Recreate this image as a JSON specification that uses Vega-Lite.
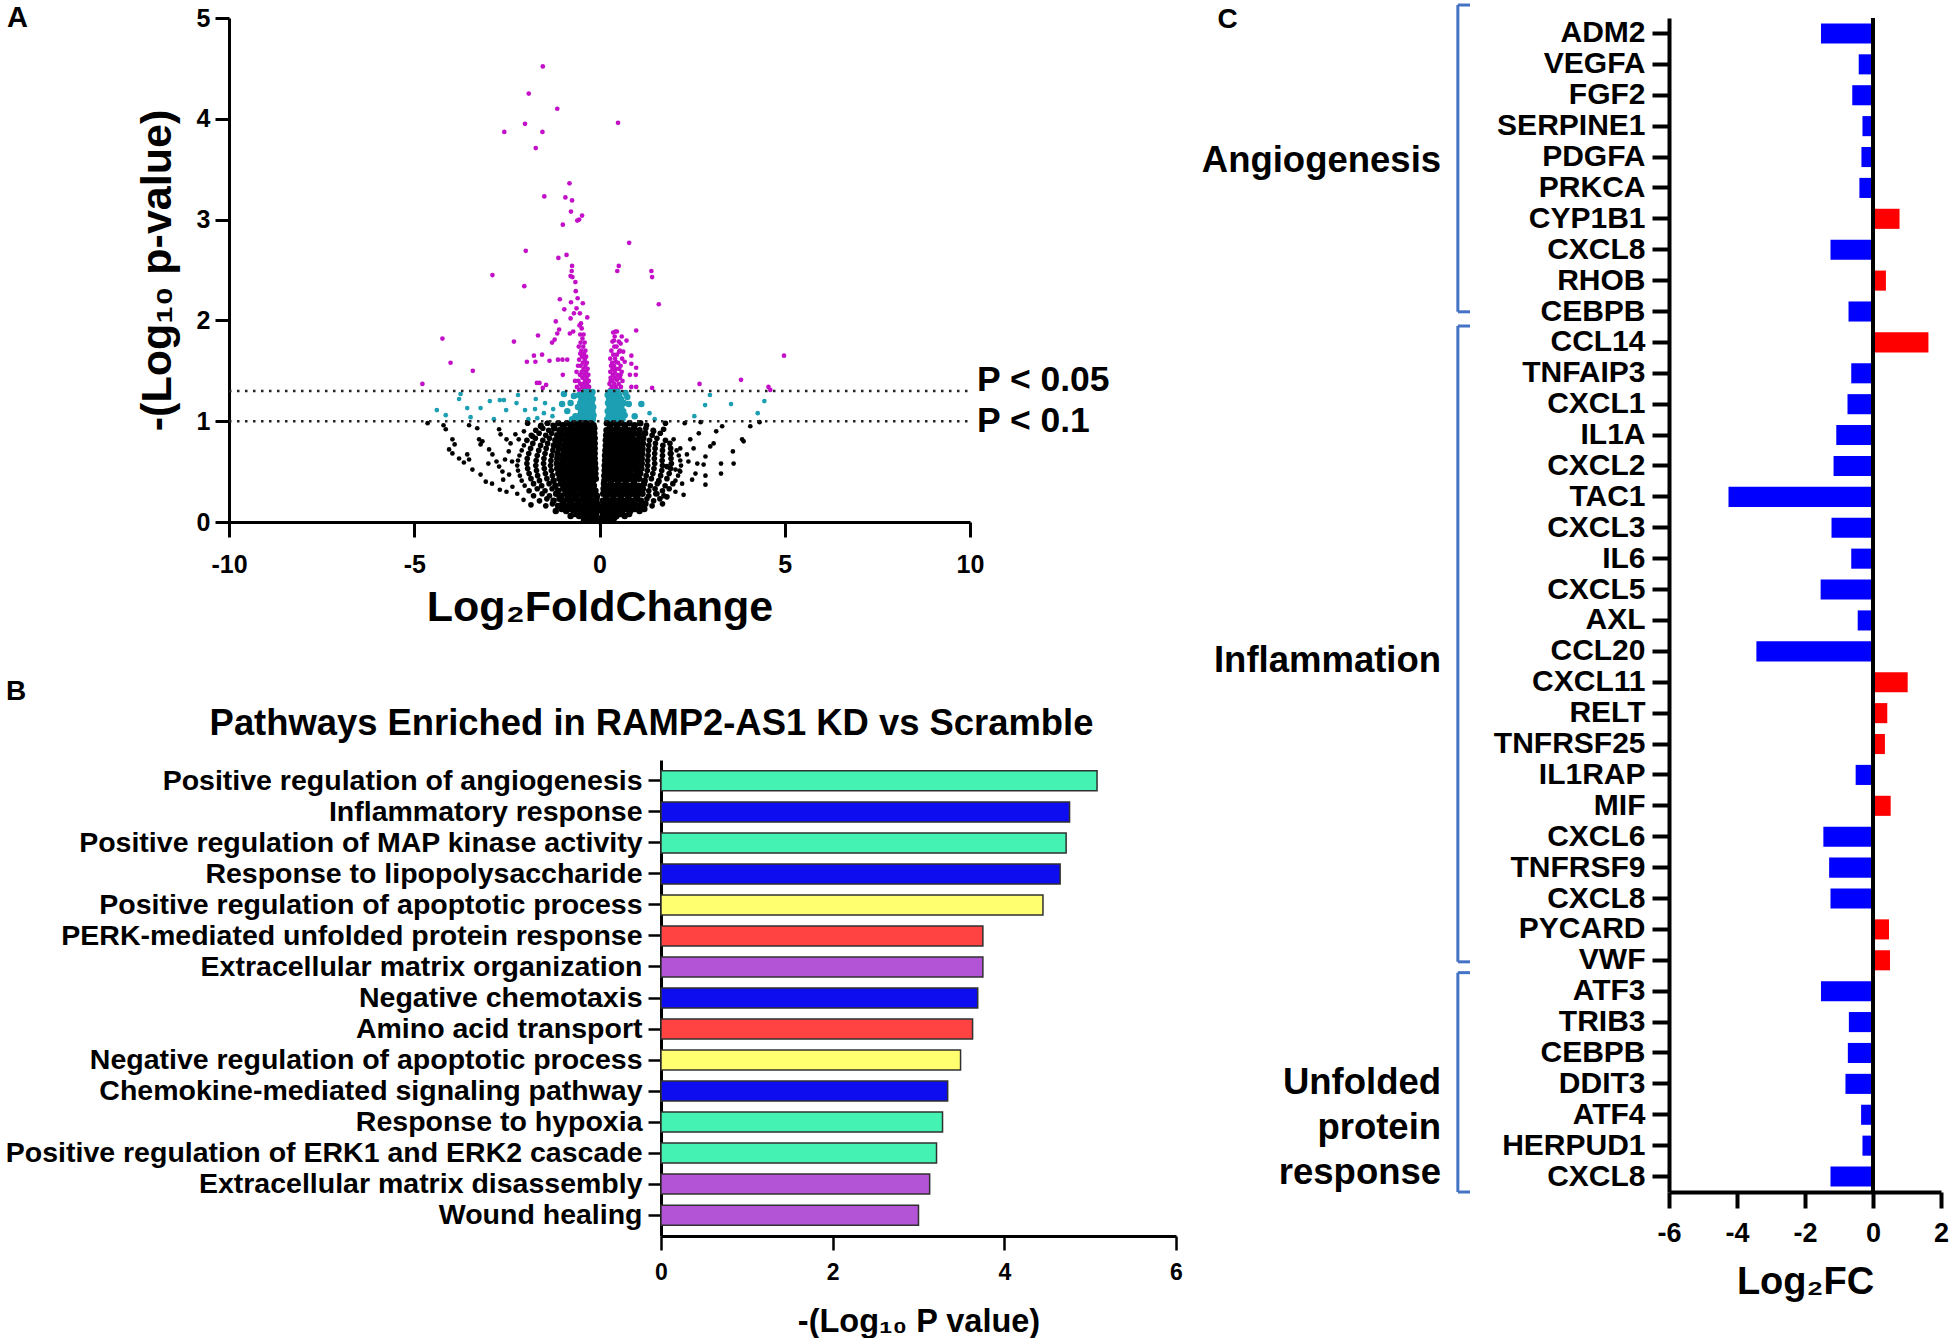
{
"$schema": "https://vega.github.io/schema/vega-lite/v6.json",
"padding": {"left": 0, "top": 3, "right": 0, "bottom": 0},
"background": "white",
"config": {
  "view": {"stroke": null},
  "font": "Liberation Sans",
  "axis": {"grid": false, "domainColor": "#000", "tickColor": "#000", "labelColor": "#000", "titleColor": "#000", "labelFont": "Liberation Sans", "titleFont": "Liberation Sans", "labelFontWeight": "bold", "titleFontWeight": "bold", "labelOverlap": false, "labelLimit": 900, "titleLimit": 1400},
  "title": {"font": "Liberation Sans", "fontWeight": "bold", "color": "#000"},
  "text": {"font": "Liberation Sans"}
},
"bounds": "flush",
"spacing": 1200,
"hconcat": [
  {
    "bounds": "flush",
    "spacing": 238,
    "vconcat": [
      {
        "width": 970,
        "height": 504,
        "title": {"text": "A", "anchor": "start", "frame": "group", "fontSize": 29, "offset": 0, "dx": 7, "dy": 50, "baseline": "alphabetic"},
        "data": {"values": [
{"x":-1.53,"y":4.52},{"x":-1.91,"y":4.25},{"x":-1.14,"y":4.1},{"x":-2.01,"y":3.95},{"x":-2.57,"y":3.87},{"x":-1.54,"y":3.87},{"x":-1.72,"y":3.71},{"x":0.5,"y":3.96},{"x":-0.81,"y":3.36},{"x":-1.49,"y":3.23},{"x":-0.92,"y":3.22},{"x":-0.74,"y":3.19},{"x":-0.77,"y":3.08},{"x":-0.47,"y":3.04},{"x":-0.6,"y":2.99},{"x":-0.55,"y":3.0},{"x":-0.99,"y":2.95},{"x":0.8,"y":2.77},{"x":-1.99,"y":2.69},{"x":-1.11,"y":2.62},{"x":-0.89,"y":2.65},{"x":-0.74,"y":2.54},{"x":0.52,"y":2.54},{"x":0.48,"y":2.49},{"x":-0.75,"y":2.49},{"x":1.4,"y":2.49},{"x":1.42,"y":2.43},{"x":-2.89,"y":2.45},{"x":-2.03,"y":2.34},{"x":-0.78,"y":2.44},{"x":-0.73,"y":2.43},{"x":-0.65,"y":2.38},{"x":1.6,"y":2.16},{"x":-0.64,"y":2.29},{"x":-1.07,"y":2.21},{"x":-0.77,"y":2.18},{"x":-0.59,"y":2.22},{"x":-0.45,"y":2.17},{"x":-0.95,"y":2.11},{"x":-0.62,"y":2.12},{"x":-0.69,"y":2.07},{"x":-0.53,"y":2.07},{"x":-0.78,"y":2.02},{"x":-0.33,"y":2.03},{"x":-1.18,"y":1.99},{"x":-0.54,"y":1.95},{"x":-1.09,"y":1.91},{"x":-1.14,"y":1.87},{"x":-0.8,"y":1.87},{"x":-0.71,"y":1.89},{"x":0.43,"y":1.89},{"x":0.99,"y":1.9},{"x":-4.24,"y":1.82},{"x":-2.31,"y":1.79},{"x":-1.66,"y":1.85},{"x":-1.28,"y":1.78},{"x":-1.21,"y":1.81},{"x":-4.02,"y":1.58},{"x":-3.42,"y":1.5},{"x":-1.96,"y":1.59},{"x":-1.77,"y":1.65},{"x":-1.73,"y":1.59},{"x":-1.55,"y":1.66},{"x":-1.35,"y":1.6},{"x":-1.62,"y":1.38},{"x":-1.44,"y":1.36},{"x":-1.69,"y":1.38},{"x":-1.53,"y":1.33},{"x":-1.12,"y":1.61},{"x":-1.0,"y":1.61},{"x":-0.87,"y":1.61},{"x":-0.99,"y":1.46},{"x":-4.78,"y":1.37},{"x":2.7,"y":1.37},{"x":3.82,"y":1.41},{"x":4.98,"y":1.65},{"x":4.61,"y":1.31},{"x":1.42,"y":1.33},{"x":0.99,"y":1.34},{"x":0.86,"y":1.65},{"x":0.86,"y":1.57},{"x":0.82,"y":1.46},{"x":0.99,"y":1.53},{"x":0.98,"y":1.46},{"x":0.73,"y":1.8},{"x":0.6,"y":1.84},{"x":0.47,"y":1.89},{"x":0.57,"y":1.77},{"x":0.39,"y":1.8},{"x":0.53,"y":1.69},{"x":0.44,"y":1.59},{"x":0.64,"y":1.69},{"x":0.68,"y":1.59},{"x":0.35,"y":1.52},{"x":0.57,"y":1.46},{"x":0.3,"y":1.4},{"x":0.47,"y":1.41},{"x":0.86,"y":1.34},{"x":4.56,"y":1.34},
{"x":-0.31,"y":1.31},{"x":-0.42,"y":1.31},{"x":-0.55,"y":1.31},{"x":-0.28,"y":1.34},{"x":-0.37,"y":1.34},{"x":-0.48,"y":1.34},{"x":-0.61,"y":1.34},{"x":-0.33,"y":1.37},{"x":-0.44,"y":1.37},{"x":-0.52,"y":1.37},{"x":-0.29,"y":1.4},{"x":-0.39,"y":1.4},{"x":-0.57,"y":1.4},{"x":-0.66,"y":1.4},{"x":-0.35,"y":1.43},{"x":-0.46,"y":1.43},{"x":-0.3,"y":1.46},{"x":-0.41,"y":1.46},{"x":-0.53,"y":1.46},{"x":-0.36,"y":1.49},{"x":-0.48,"y":1.49},{"x":-0.62,"y":1.49},{"x":-0.32,"y":1.52},{"x":-0.43,"y":1.52},{"x":-0.38,"y":1.55},{"x":-0.51,"y":1.55},{"x":-0.58,"y":1.55},{"x":-0.34,"y":1.58},{"x":-0.45,"y":1.58},{"x":-0.4,"y":1.61},{"x":-0.55,"y":1.61},{"x":-0.36,"y":1.64},{"x":-0.47,"y":1.64},{"x":-0.42,"y":1.67},{"x":-0.52,"y":1.67},{"x":-0.38,"y":1.7},{"x":-0.49,"y":1.7},{"x":-0.44,"y":1.74},{"x":-0.56,"y":1.74},{"x":-0.4,"y":1.78},{"x":-0.51,"y":1.78},{"x":-0.46,"y":1.82},{"x":-0.43,"y":1.86},{"x":-0.52,"y":1.86},{"x":-0.48,"y":1.92},{"x":-0.5,"y":1.97},
{"x":0.29,"y":1.31},{"x":0.38,"y":1.31},{"x":0.5,"y":1.31},{"x":0.33,"y":1.34},{"x":0.44,"y":1.34},{"x":0.58,"y":1.34},{"x":0.27,"y":1.37},{"x":0.4,"y":1.37},{"x":0.52,"y":1.37},{"x":0.35,"y":1.4},{"x":0.62,"y":1.4},{"x":0.3,"y":1.43},{"x":0.42,"y":1.43},{"x":0.55,"y":1.43},{"x":0.36,"y":1.46},{"x":0.48,"y":1.46},{"x":0.29,"y":1.49},{"x":0.41,"y":1.49},{"x":0.6,"y":1.49},{"x":0.45,"y":1.52},{"x":0.53,"y":1.52},{"x":0.31,"y":1.55},{"x":0.39,"y":1.55},{"x":0.57,"y":1.55},{"x":0.34,"y":1.58},{"x":0.5,"y":1.58},{"x":0.29,"y":1.62},{"x":0.42,"y":1.62},{"x":0.61,"y":1.62},{"x":0.37,"y":1.66},{"x":0.47,"y":1.66},{"x":0.32,"y":1.7},{"x":0.55,"y":1.7},{"x":0.4,"y":1.74},{"x":0.46,"y":1.74},{"x":0.35,"y":1.79},{"x":0.52,"y":1.79},{"x":0.41,"y":1.84},{"x":0.37,"y":1.88},
{"x":-3.75,"y":1.27},{"x":-3.79,"y":1.22},{"x":-4.39,"y":1.11},{"x":-3.57,"y":1.13},{"x":-3.48,"y":1.04},{"x":-3.21,"y":1.13},{"x":-2.96,"y":1.2},{"x":-2.69,"y":1.21},{"x":-2.58,"y":1.21},{"x":-2.52,"y":1.11},{"x":-2.85,"y":1.02},{"x":-2.24,"y":1.18},{"x":-2.01,"y":1.11},{"x":-1.92,"y":1.02},{"x":-1.72,"y":1.22},{"x":-1.74,"y":1.12},{"x":-1.47,"y":1.18},{"x":-1.5,"y":1.08},{"x":-1.68,"y":1.03},{"x":-1.25,"y":1.12},{"x":-1.27,"y":1.05},{"x":-1.01,"y":1.17},{"x":-0.96,"y":1.27},{"x":-0.87,"y":1.1},{"x":-0.78,"y":1.18},{"x":-0.69,"y":1.25},{"x":-0.65,"y":1.05},{"x":-0.74,"y":1.02},{"x":0.75,"y":1.24},{"x":0.79,"y":1.17},{"x":0.7,"y":1.28},{"x":1.13,"y":1.17},{"x":0.95,"y":1.05},{"x":1.35,"y":1.08},{"x":1.49,"y":1.02},{"x":2.56,"y":1.05},{"x":2.85,"y":1.16},{"x":2.98,"y":1.26},{"x":3.55,"y":1.17},{"x":4.27,"y":1.08},{"x":4.45,"y":1.2},{"x":-4.15,"y":1.06},{"x":-2.2,"y":1.26},
{"x":-0.18,"y":1.02},{"x":-0.28,"y":1.02},{"x":-0.38,"y":1.02},{"x":-0.48,"y":1.02},{"x":-0.57,"y":1.02},{"x":-0.16,"y":1.06},{"x":-0.24,"y":1.06},{"x":-0.34,"y":1.06},{"x":-0.44,"y":1.06},{"x":-0.53,"y":1.06},{"x":-0.19,"y":1.1},{"x":-0.29,"y":1.1},{"x":-0.39,"y":1.1},{"x":-0.5,"y":1.1},{"x":-0.17,"y":1.14},{"x":-0.26,"y":1.14},{"x":-0.36,"y":1.14},{"x":-0.46,"y":1.14},{"x":-0.58,"y":1.14},{"x":-0.21,"y":1.18},{"x":-0.31,"y":1.18},{"x":-0.41,"y":1.18},{"x":-0.52,"y":1.18},{"x":-0.18,"y":1.22},{"x":-0.28,"y":1.22},{"x":-0.38,"y":1.22},{"x":-0.49,"y":1.22},{"x":-0.22,"y":1.26},{"x":-0.33,"y":1.26},{"x":-0.44,"y":1.26},{"x":-0.55,"y":1.26},{"x":-0.19,"y":1.29},{"x":-0.3,"y":1.29},{"x":-0.4,"y":1.29},
{"x":0.21,"y":1.02},{"x":0.31,"y":1.02},{"x":0.41,"y":1.02},{"x":0.51,"y":1.02},{"x":0.62,"y":1.02},{"x":0.25,"y":1.06},{"x":0.35,"y":1.06},{"x":0.45,"y":1.06},{"x":0.56,"y":1.06},{"x":0.68,"y":1.06},{"x":0.22,"y":1.1},{"x":0.32,"y":1.1},{"x":0.42,"y":1.1},{"x":0.53,"y":1.1},{"x":0.64,"y":1.1},{"x":0.27,"y":1.14},{"x":0.37,"y":1.14},{"x":0.48,"y":1.14},{"x":0.59,"y":1.14},{"x":0.23,"y":1.18},{"x":0.33,"y":1.18},{"x":0.43,"y":1.18},{"x":0.55,"y":1.18},{"x":0.66,"y":1.18},{"x":0.26,"y":1.22},{"x":0.36,"y":1.22},{"x":0.47,"y":1.22},{"x":0.58,"y":1.22},{"x":0.22,"y":1.26},{"x":0.32,"y":1.26},{"x":0.42,"y":1.26},{"x":0.53,"y":1.26},{"x":0.28,"y":1.29},{"x":0.38,"y":1.29},{"x":0.49,"y":1.29},
{"x":-4.64,"y":0.98},{"x":-4.21,"y":0.96},{"x":-4.15,"y":0.92},{"x":-3.97,"y":0.82},{"x":-3.91,"y":0.77},{"x":-4.06,"y":0.72},{"x":-3.97,"y":0.68},{"x":-3.79,"y":0.63},{"x":-3.57,"y":0.67},{"x":-3.52,"y":0.62},{"x":-3.66,"y":0.59},{"x":-3.43,"y":0.52},{"x":-3.21,"y":0.47},{"x":-3.07,"y":0.4},{"x":-3.52,"y":0.96},{"x":-3.3,"y":0.93},{"x":-3.25,"y":0.82},{"x":-3.16,"y":0.8},{"x":-3.21,"y":0.77},{"x":-2.98,"y":0.72},{"x":-2.89,"y":0.67},{"x":-2.78,"y":0.6},{"x":-2.71,"y":0.55},{"x":-2.62,"y":0.5},{"x":-2.44,"y":0.47},{"x":-2.69,"y":0.32},{"x":-2.51,"y":0.3},{"x":-2.35,"y":0.35},{"x":-2.22,"y":0.28},{"x":-2.71,"y":0.92},{"x":-2.67,"y":0.87},{"x":-2.51,"y":0.82},{"x":-2.4,"y":0.78},{"x":-2.27,"y":0.87},{"x":-2.04,"y":0.9},{"x":-2.18,"y":0.82},{"x":-1.94,"y":0.98},{"x":-1.81,"y":0.85},{"x":-1.59,"y":0.95},{"x":-1.41,"y":0.98},{"x":-2.9,"y":0.38},{"x":-3.0,"y":0.58},{"x":-2.55,"y":0.62},{"x":-2.36,"y":0.6},{"x":-2.45,"y":0.7},{"x":-2.6,"y":0.42},{"x":-2.05,"y":0.22},{"x":-1.85,"y":0.17},
{"x":1.78,"y":0.98},{"x":2.3,"y":0.98},{"x":2.73,"y":0.99},{"x":3.31,"y":0.95},{"x":4.07,"y":0.95},{"x":4.32,"y":0.99},{"x":3.85,"y":0.82},{"x":3.89,"y":0.8},{"x":3.6,"y":0.7},{"x":3.62,"y":0.58},{"x":3.28,"y":0.58},{"x":3.28,"y":0.48},{"x":3.08,"y":0.78},{"x":2.99,"y":0.75},{"x":2.86,"y":0.65},{"x":2.81,"y":0.57},{"x":2.64,"y":0.58},{"x":2.59,"y":0.48},{"x":2.86,"y":0.46},{"x":2.86,"y":0.37},{"x":2.5,"y":0.42},{"x":2.23,"y":0.38},{"x":2.27,"y":0.27},{"x":2.05,"y":0.3},{"x":1.82,"y":0.25},{"x":2.45,"y":0.82},{"x":2.54,"y":0.73},{"x":2.36,"y":0.67},{"x":2.18,"y":0.73},{"x":2.0,"y":0.82},{"x":1.91,"y":0.68},{"x":1.82,"y":0.55},{"x":2.05,"y":0.52},{"x":2.18,"y":0.5},{"x":1.6,"y":0.4},{"x":1.55,"y":0.28},{"x":1.73,"y":0.92},{"x":1.46,"y":0.9},{"x":2.4,"y":0.6},{"x":2.68,"y":0.88},{"x":3.15,"y":0.9},{"x":1.7,"y":0.18},
{"x":-0.02,"y":0.01},{"x":0.02,"y":0.03},{"x":-0.42,"y":0.02},{"x":-0.33,"y":0.04},{"x":-0.24,"y":0.02},{"x":-0.15,"y":0.04},{"x":-0.07,"y":0.02},{"x":0.06,"y":0.04},{"x":0.14,"y":0.02},{"x":0.23,"y":0.04},{"x":0.31,"y":0.02},{"x":0.4,"y":0.04},
{"x":-0.78,"y":0.06},{"x":-0.66,"y":0.08},{"x":-0.55,"y":0.06},{"x":-0.45,"y":0.08},{"x":-0.36,"y":0.06},{"x":-0.27,"y":0.08},{"x":-0.18,"y":0.06},{"x":-0.09,"y":0.08},{"x":0.09,"y":0.06},{"x":0.18,"y":0.08},{"x":0.27,"y":0.06},{"x":0.37,"y":0.08},{"x":0.46,"y":0.06},{"x":0.57,"y":0.08},{"x":0.68,"y":0.06},{"x":0.8,"y":0.08},
{"x":-1.18,"y":0.11},{"x":-1.02,"y":0.13},{"x":-0.9,"y":0.11},{"x":-0.8,"y":0.13},{"x":-0.7,"y":0.11},{"x":-0.6,"y":0.13},{"x":-0.5,"y":0.11},{"x":-0.41,"y":0.13},{"x":-0.32,"y":0.11},{"x":-0.23,"y":0.13},{"x":-0.14,"y":0.11},{"x":-0.05,"y":0.13},{"x":0.06,"y":0.11},{"x":0.15,"y":0.13},{"x":0.24,"y":0.11},{"x":0.33,"y":0.13},{"x":0.43,"y":0.11},{"x":0.52,"y":0.13},{"x":0.62,"y":0.11},{"x":0.72,"y":0.13},{"x":0.83,"y":0.11},{"x":0.95,"y":0.13},{"x":1.08,"y":0.11},{"x":1.21,"y":0.13},
{"x":-1.45,"y":0.16},{"x":-1.27,"y":0.18},{"x":-1.12,"y":0.16},{"x":-1.0,"y":0.18},{"x":-0.9,"y":0.16},{"x":-0.8,"y":0.18},{"x":-0.7,"y":0.16},{"x":-0.6,"y":0.18},{"x":-0.5,"y":0.16},{"x":-0.41,"y":0.18},{"x":-0.32,"y":0.16},{"x":-0.23,"y":0.18},{"x":-0.14,"y":0.16},{"x":-0.06,"y":0.18},{"x":0.08,"y":0.16},{"x":0.17,"y":0.18},{"x":0.26,"y":0.16},{"x":0.35,"y":0.18},{"x":0.45,"y":0.16},{"x":0.55,"y":0.18},{"x":0.65,"y":0.16},{"x":0.75,"y":0.18},{"x":0.85,"y":0.16},{"x":0.96,"y":0.18},{"x":1.09,"y":0.16},{"x":1.24,"y":0.18},{"x":1.42,"y":0.16},
{"x":-1.62,"y":0.21},{"x":-1.42,"y":0.23},{"x":-1.24,"y":0.21},{"x":-1.08,"y":0.23},{"x":-0.96,"y":0.21},{"x":-0.86,"y":0.23},{"x":-0.76,"y":0.21},{"x":-0.66,"y":0.23},{"x":-0.56,"y":0.21},{"x":-0.46,"y":0.23},{"x":-0.36,"y":0.21},{"x":-0.27,"y":0.23},{"x":-0.18,"y":0.21},{"x":-0.08,"y":0.23},{"x":0.09,"y":0.21},{"x":0.18,"y":0.23},{"x":0.27,"y":0.21},{"x":0.37,"y":0.23},{"x":0.47,"y":0.21},{"x":0.57,"y":0.23},{"x":0.67,"y":0.21},{"x":0.77,"y":0.23},{"x":0.88,"y":0.21},{"x":0.99,"y":0.23},{"x":1.12,"y":0.21},{"x":1.28,"y":0.23},{"x":1.46,"y":0.21},{"x":1.63,"y":0.23},
{"x":-1.78,"y":0.26},{"x":-1.55,"y":0.28},{"x":-1.35,"y":0.26},{"x":-1.17,"y":0.28},{"x":-1.03,"y":0.26},{"x":-0.92,"y":0.28},{"x":-0.82,"y":0.26},{"x":-0.72,"y":0.28},{"x":-0.62,"y":0.26},{"x":-0.52,"y":0.28},{"x":-0.42,"y":0.26},{"x":-0.33,"y":0.28},{"x":-0.24,"y":0.26},{"x":-0.15,"y":0.28},{"x":-0.07,"y":0.26},{"x":0.1,"y":0.28},{"x":0.19,"y":0.26},{"x":0.28,"y":0.28},{"x":0.38,"y":0.26},{"x":0.48,"y":0.28},{"x":0.58,"y":0.26},{"x":0.68,"y":0.28},{"x":0.79,"y":0.26},{"x":0.9,"y":0.28},{"x":1.02,"y":0.26},{"x":1.16,"y":0.28},{"x":1.33,"y":0.26},{"x":1.52,"y":0.28},{"x":1.74,"y":0.26},
{"x":-1.9,"y":0.31},{"x":-1.68,"y":0.33},{"x":-1.47,"y":0.31},{"x":-1.28,"y":0.33},{"x":-1.12,"y":0.31},{"x":-0.98,"y":0.33},{"x":-0.87,"y":0.31},{"x":-0.77,"y":0.33},{"x":-0.67,"y":0.31},{"x":-0.57,"y":0.33},{"x":-0.47,"y":0.31},{"x":-0.38,"y":0.33},{"x":-0.29,"y":0.31},{"x":-0.2,"y":0.33},{"x":-0.11,"y":0.31},{"x":0.11,"y":0.33},{"x":0.2,"y":0.31},{"x":0.29,"y":0.33},{"x":0.39,"y":0.31},{"x":0.49,"y":0.33},{"x":0.59,"y":0.31},{"x":0.69,"y":0.33},{"x":0.8,"y":0.31},{"x":0.91,"y":0.33},{"x":1.03,"y":0.31},{"x":1.17,"y":0.33},{"x":1.33,"y":0.31},{"x":1.5,"y":0.33},{"x":1.7,"y":0.31},{"x":1.88,"y":0.33},
{"x":-2.02,"y":0.36},{"x":-1.78,"y":0.38},{"x":-1.56,"y":0.36},{"x":-1.36,"y":0.38},{"x":-1.19,"y":0.36},{"x":-1.04,"y":0.38},{"x":-0.92,"y":0.36},{"x":-0.81,"y":0.38},{"x":-0.71,"y":0.36},{"x":-0.61,"y":0.38},{"x":-0.51,"y":0.36},{"x":-0.42,"y":0.38},{"x":-0.33,"y":0.36},{"x":-0.24,"y":0.38},{"x":-0.15,"y":0.36},{"x":0.12,"y":0.38},{"x":0.21,"y":0.36},{"x":0.3,"y":0.38},{"x":0.4,"y":0.36},{"x":0.5,"y":0.38},{"x":0.6,"y":0.36},{"x":0.7,"y":0.38},{"x":0.81,"y":0.36},{"x":0.92,"y":0.38},{"x":1.05,"y":0.36},{"x":1.2,"y":0.38},{"x":1.37,"y":0.36},{"x":1.56,"y":0.38},{"x":1.77,"y":0.36},{"x":1.98,"y":0.38},
{"x":-2.1,"y":0.41},{"x":-1.85,"y":0.43},{"x":-1.62,"y":0.41},{"x":-1.42,"y":0.43},{"x":-1.24,"y":0.41},{"x":-1.08,"y":0.43},{"x":-0.95,"y":0.41},{"x":-0.84,"y":0.43},{"x":-0.74,"y":0.41},{"x":-0.64,"y":0.43},{"x":-0.54,"y":0.41},{"x":-0.44,"y":0.43},{"x":-0.35,"y":0.41},{"x":-0.26,"y":0.43},{"x":-0.17,"y":0.41},{"x":-0.1,"y":0.43},{"x":0.13,"y":0.41},{"x":0.22,"y":0.43},{"x":0.31,"y":0.41},{"x":0.41,"y":0.43},{"x":0.51,"y":0.41},{"x":0.61,"y":0.43},{"x":0.71,"y":0.41},{"x":0.82,"y":0.43},{"x":0.94,"y":0.41},{"x":1.07,"y":0.43},{"x":1.22,"y":0.41},{"x":1.4,"y":0.43},{"x":1.6,"y":0.41},{"x":1.82,"y":0.43},{"x":2.05,"y":0.41},
{"x":-2.15,"y":0.46},{"x":-1.9,"y":0.48},{"x":-1.67,"y":0.46},{"x":-1.46,"y":0.48},{"x":-1.27,"y":0.46},{"x":-1.11,"y":0.48},{"x":-0.98,"y":0.46},{"x":-0.87,"y":0.48},{"x":-0.76,"y":0.46},{"x":-0.66,"y":0.48},{"x":-0.56,"y":0.46},{"x":-0.46,"y":0.48},{"x":-0.37,"y":0.46},{"x":-0.28,"y":0.48},{"x":-0.19,"y":0.46},{"x":-0.11,"y":0.48},{"x":0.13,"y":0.46},{"x":0.22,"y":0.48},{"x":0.32,"y":0.46},{"x":0.42,"y":0.48},{"x":0.52,"y":0.46},{"x":0.62,"y":0.48},{"x":0.73,"y":0.46},{"x":0.84,"y":0.48},{"x":0.96,"y":0.46},{"x":1.1,"y":0.48},{"x":1.26,"y":0.46},{"x":1.44,"y":0.48},{"x":1.65,"y":0.46},{"x":1.88,"y":0.48},{"x":2.12,"y":0.46},
{"x":-2.2,"y":0.51},{"x":-1.94,"y":0.53},{"x":-1.7,"y":0.51},{"x":-1.49,"y":0.53},{"x":-1.3,"y":0.51},{"x":-1.14,"y":0.53},{"x":-1.0,"y":0.51},{"x":-0.88,"y":0.53},{"x":-0.77,"y":0.51},{"x":-0.67,"y":0.53},{"x":-0.57,"y":0.51},{"x":-0.47,"y":0.53},{"x":-0.38,"y":0.51},{"x":-0.29,"y":0.53},{"x":-0.2,"y":0.51},{"x":-0.11,"y":0.53},{"x":0.14,"y":0.51},{"x":0.23,"y":0.53},{"x":0.33,"y":0.51},{"x":0.43,"y":0.53},{"x":0.53,"y":0.51},{"x":0.63,"y":0.53},{"x":0.74,"y":0.51},{"x":0.86,"y":0.53},{"x":0.99,"y":0.51},{"x":1.13,"y":0.53},{"x":1.29,"y":0.51},{"x":1.47,"y":0.53},{"x":1.68,"y":0.51},{"x":1.92,"y":0.53},{"x":2.16,"y":0.51},
{"x":-2.22,"y":0.56},{"x":-1.96,"y":0.58},{"x":-1.72,"y":0.56},{"x":-1.51,"y":0.58},{"x":-1.32,"y":0.56},{"x":-1.15,"y":0.58},{"x":-1.01,"y":0.56},{"x":-0.89,"y":0.58},{"x":-0.78,"y":0.56},{"x":-0.68,"y":0.58},{"x":-0.58,"y":0.56},{"x":-0.48,"y":0.58},{"x":-0.39,"y":0.56},{"x":-0.3,"y":0.58},{"x":-0.21,"y":0.56},{"x":-0.12,"y":0.58},{"x":0.14,"y":0.56},{"x":0.24,"y":0.58},{"x":0.34,"y":0.56},{"x":0.44,"y":0.58},{"x":0.54,"y":0.56},{"x":0.64,"y":0.58},{"x":0.75,"y":0.56},{"x":0.87,"y":0.58},{"x":1.0,"y":0.56},{"x":1.14,"y":0.58},{"x":1.3,"y":0.56},{"x":1.49,"y":0.58},{"x":1.7,"y":0.56},{"x":1.94,"y":0.58},{"x":2.2,"y":0.56},
{"x":-2.2,"y":0.61},{"x":-1.95,"y":0.63},{"x":-1.71,"y":0.61},{"x":-1.5,"y":0.63},{"x":-1.31,"y":0.61},{"x":-1.14,"y":0.63},{"x":-1.0,"y":0.61},{"x":-0.88,"y":0.63},{"x":-0.78,"y":0.61},{"x":-0.68,"y":0.63},{"x":-0.58,"y":0.61},{"x":-0.49,"y":0.63},{"x":-0.4,"y":0.61},{"x":-0.31,"y":0.63},{"x":-0.22,"y":0.61},{"x":-0.13,"y":0.63},{"x":0.15,"y":0.61},{"x":0.24,"y":0.63},{"x":0.34,"y":0.61},{"x":0.44,"y":0.63},{"x":0.54,"y":0.61},{"x":0.64,"y":0.63},{"x":0.75,"y":0.61},{"x":0.87,"y":0.63},{"x":1.0,"y":0.61},{"x":1.14,"y":0.63},{"x":1.3,"y":0.61},{"x":1.48,"y":0.63},{"x":1.69,"y":0.61},{"x":1.93,"y":0.63},{"x":2.18,"y":0.61},
{"x":-2.16,"y":0.66},{"x":-1.91,"y":0.68},{"x":-1.68,"y":0.66},{"x":-1.47,"y":0.68},{"x":-1.29,"y":0.66},{"x":-1.13,"y":0.68},{"x":-0.99,"y":0.66},{"x":-0.87,"y":0.68},{"x":-0.77,"y":0.66},{"x":-0.67,"y":0.68},{"x":-0.57,"y":0.66},{"x":-0.48,"y":0.68},{"x":-0.39,"y":0.66},{"x":-0.3,"y":0.68},{"x":-0.21,"y":0.66},{"x":-0.13,"y":0.68},{"x":0.15,"y":0.66},{"x":0.25,"y":0.68},{"x":0.35,"y":0.66},{"x":0.45,"y":0.68},{"x":0.55,"y":0.66},{"x":0.65,"y":0.68},{"x":0.76,"y":0.66},{"x":0.88,"y":0.68},{"x":1.01,"y":0.66},{"x":1.15,"y":0.68},{"x":1.31,"y":0.66},{"x":1.49,"y":0.68},{"x":1.7,"y":0.66},{"x":1.93,"y":0.68},{"x":2.14,"y":0.66},
{"x":-2.1,"y":0.71},{"x":-1.86,"y":0.73},{"x":-1.64,"y":0.71},{"x":-1.44,"y":0.73},{"x":-1.26,"y":0.71},{"x":-1.1,"y":0.73},{"x":-0.97,"y":0.71},{"x":-0.86,"y":0.73},{"x":-0.76,"y":0.71},{"x":-0.66,"y":0.73},{"x":-0.56,"y":0.71},{"x":-0.47,"y":0.73},{"x":-0.38,"y":0.71},{"x":-0.29,"y":0.73},{"x":-0.21,"y":0.71},{"x":-0.13,"y":0.73},{"x":0.16,"y":0.71},{"x":0.25,"y":0.73},{"x":0.35,"y":0.71},{"x":0.45,"y":0.73},{"x":0.55,"y":0.71},{"x":0.66,"y":0.73},{"x":0.77,"y":0.71},{"x":0.89,"y":0.73},{"x":1.02,"y":0.71},{"x":1.16,"y":0.73},{"x":1.32,"y":0.71},{"x":1.5,"y":0.73},{"x":1.7,"y":0.71},{"x":1.92,"y":0.73},{"x":2.08,"y":0.71},
{"x":-2.04,"y":0.76},{"x":-1.8,"y":0.78},{"x":-1.59,"y":0.76},{"x":-1.4,"y":0.78},{"x":-1.23,"y":0.76},{"x":-1.08,"y":0.78},{"x":-0.95,"y":0.76},{"x":-0.84,"y":0.78},{"x":-0.74,"y":0.76},{"x":-0.64,"y":0.78},{"x":-0.55,"y":0.76},{"x":-0.46,"y":0.78},{"x":-0.37,"y":0.76},{"x":-0.28,"y":0.78},{"x":-0.2,"y":0.76},{"x":-0.13,"y":0.78},{"x":0.17,"y":0.76},{"x":0.26,"y":0.78},{"x":0.36,"y":0.76},{"x":0.46,"y":0.78},{"x":0.56,"y":0.76},{"x":0.67,"y":0.78},{"x":0.78,"y":0.76},{"x":0.9,"y":0.78},{"x":1.03,"y":0.76},{"x":1.17,"y":0.78},{"x":1.33,"y":0.76},{"x":1.51,"y":0.78},{"x":1.71,"y":0.76},{"x":1.9,"y":0.78},
{"x":-1.96,"y":0.81},{"x":-1.73,"y":0.83},{"x":-1.53,"y":0.81},{"x":-1.35,"y":0.83},{"x":-1.19,"y":0.81},{"x":-1.05,"y":0.83},{"x":-0.93,"y":0.81},{"x":-0.82,"y":0.83},{"x":-0.72,"y":0.81},{"x":-0.63,"y":0.83},{"x":-0.54,"y":0.81},{"x":-0.45,"y":0.83},{"x":-0.36,"y":0.81},{"x":-0.28,"y":0.83},{"x":-0.2,"y":0.81},{"x":-0.13,"y":0.83},{"x":0.17,"y":0.81},{"x":0.26,"y":0.83},{"x":0.36,"y":0.81},{"x":0.46,"y":0.83},{"x":0.56,"y":0.81},{"x":0.67,"y":0.83},{"x":0.78,"y":0.81},{"x":0.9,"y":0.83},{"x":1.03,"y":0.81},{"x":1.18,"y":0.83},{"x":1.35,"y":0.81},{"x":1.55,"y":0.83},{"x":1.78,"y":0.81},
{"x":-1.84,"y":0.86},{"x":-1.63,"y":0.88},{"x":-1.45,"y":0.86},{"x":-1.29,"y":0.88},{"x":-1.14,"y":0.86},{"x":-1.01,"y":0.88},{"x":-0.9,"y":0.86},{"x":-0.8,"y":0.88},{"x":-0.7,"y":0.86},{"x":-0.61,"y":0.88},{"x":-0.52,"y":0.86},{"x":-0.43,"y":0.88},{"x":-0.35,"y":0.86},{"x":-0.27,"y":0.88},{"x":-0.2,"y":0.86},{"x":-0.14,"y":0.88},{"x":0.18,"y":0.86},{"x":0.27,"y":0.88},{"x":0.37,"y":0.86},{"x":0.47,"y":0.88},{"x":0.57,"y":0.86},{"x":0.68,"y":0.88},{"x":0.8,"y":0.86},{"x":0.93,"y":0.88},{"x":1.07,"y":0.86},{"x":1.23,"y":0.88},{"x":1.42,"y":0.86},{"x":1.64,"y":0.88},
{"x":-1.72,"y":0.91},{"x":-1.53,"y":0.93},{"x":-1.37,"y":0.91},{"x":-1.22,"y":0.93},{"x":-1.08,"y":0.91},{"x":-0.96,"y":0.93},{"x":-0.86,"y":0.91},{"x":-0.76,"y":0.93},{"x":-0.67,"y":0.91},{"x":-0.58,"y":0.93},{"x":-0.5,"y":0.91},{"x":-0.42,"y":0.93},{"x":-0.34,"y":0.91},{"x":-0.27,"y":0.93},{"x":-0.2,"y":0.91},{"x":-0.14,"y":0.93},{"x":0.19,"y":0.91},{"x":0.28,"y":0.93},{"x":0.37,"y":0.91},{"x":0.47,"y":0.93},{"x":0.57,"y":0.91},{"x":0.68,"y":0.93},{"x":0.8,"y":0.91},{"x":0.93,"y":0.93},{"x":1.08,"y":0.91},{"x":1.25,"y":0.93},{"x":1.45,"y":0.91},
{"x":-1.58,"y":0.96},{"x":-1.4,"y":0.98},{"x":-1.25,"y":0.96},{"x":-1.11,"y":0.98},{"x":-0.99,"y":0.96},{"x":-0.88,"y":0.98},{"x":-0.78,"y":0.96},{"x":-0.69,"y":0.98},{"x":-0.6,"y":0.96},{"x":-0.52,"y":0.98},{"x":-0.44,"y":0.96},{"x":-0.37,"y":0.98},{"x":-0.3,"y":0.96},{"x":-0.23,"y":0.98},{"x":-0.16,"y":0.96},{"x":0.2,"y":0.98},{"x":0.29,"y":0.96},{"x":0.38,"y":0.98},{"x":0.48,"y":0.96},{"x":0.58,"y":0.98},{"x":0.69,"y":0.96},{"x":0.81,"y":0.98},{"x":0.95,"y":0.96},{"x":1.1,"y":0.98},{"x":1.27,"y":0.96}
        ]},
        "layer": [
          {
            "mark": {"type": "circle", "opacity": 1},
            "encoding": {
              "x": {"field": "x", "type": "quantitative",
                    "scale": {"domain": [-10, 10], "range": [229, 970], "nice": false, "zero": false},
                    "axis": {"orient": "bottom", "values": [-10, -5, 0, 5, 10], "labelExpr": "datum.value", "labelFlush": false, "tickSize": 15, "tickWidth": 3, "domainWidth": 3, "labelPadding": 15, "labelFontSize": 25, "title": "Log₂FoldChange", "titleFontSize": 43, "titlePadding": 9}},
              "y": {"field": "y", "type": "quantitative",
                    "scale": {"domain": [0, 5], "nice": false, "zero": false},
                    "axis": {"orient": "left", "offset": -229, "values": [0, 1, 2, 3, 4, 5], "labelExpr": "datum.value", "tickSize": 14, "tickWidth": 3, "domainWidth": 3, "labelPadding": 5, "labelFontSize": 25, "title": "-(Log₁₀ p-value)", "titleFontSize": 43, "titlePadding": 17}},
              "size": {"condition": [{"test": "abs(datum.x) < 1.25 && datum.y < 1.3", "value": 42}, {"test": "abs(datum.x) < 2.0 && datum.y < 1", "value": 32}], "value": 22},
              "color": {"condition": [{"test": "datum.y >= 1.3", "value": "#C30FC8"}, {"test": "datum.y >= 1", "value": "#1C9FB2"}], "value": "#000000"}
            }
          },
          {
            "data": {"values": [{"p": 1.3}, {"p": 1.0}]},
            "mark": {"type": "rule", "strokeDash": [2.5, 5.5], "strokeWidth": 2.5, "color": "#222222"},
            "encoding": {"y": {"field": "p", "type": "quantitative"}, "x": {"datum": -10}, "x2": {"datum": 10}}
          },
          {
            "data": {"values": [{"p": 1.3, "label": "P < 0.05"}]},
            "mark": {"type": "text", "align": "left", "baseline": "alphabetic", "dx": 7, "fontSize": 35.5, "fontWeight": "bold", "color": "#000"},
            "encoding": {"x": {"datum": 10}, "y": {"field": "p", "type": "quantitative"}, "text": {"field": "label"}}
          },
          {
            "data": {"values": [{"p": 1.0, "label": "P < 0.1"}]},
            "mark": {"type": "text", "align": "left", "baseline": "middle", "dx": 7, "fontSize": 35.5, "fontWeight": "bold", "color": "#000"},
            "encoding": {"x": {"datum": 10}, "y": {"field": "p", "type": "quantitative"}, "text": {"field": "label"}}
          }
        ]
      },
      {
        "width": 1176,
        "height": 476,
        "title": {"text": "B", "anchor": "start", "frame": "group", "fontSize": 28, "offset": 0, "dx": 6, "dy": 23, "baseline": "alphabetic"},
        "data": {"values": [
          {"pathway": "Positive regulation of angiogenesis", "logp": 5.08, "category": "Angiogenesis"},
          {"pathway": "Inflammatory response", "logp": 4.76, "category": "Inflammation"},
          {"pathway": "Positive regulation of MAP kinase activity", "logp": 4.72, "category": "Angiogenesis"},
          {"pathway": "Response to lipopolysaccharide", "logp": 4.65, "category": "Inflammation"},
          {"pathway": "Positive regulation of apoptotic process", "logp": 4.45, "category": "Apoptosis"},
          {"pathway": "PERK-mediated unfolded protein response", "logp": 3.75, "category": "Unfolded protein response"},
          {"pathway": "Extracellular matrix organization", "logp": 3.75, "category": "Extracellular matrix"},
          {"pathway": "Negative chemotaxis", "logp": 3.69, "category": "Inflammation"},
          {"pathway": "Amino acid transport", "logp": 3.63, "category": "Unfolded protein response"},
          {"pathway": "Negative regulation of apoptotic process", "logp": 3.49, "category": "Apoptosis"},
          {"pathway": "Chemokine-mediated signaling pathway", "logp": 3.34, "category": "Inflammation"},
          {"pathway": "Response to hypoxia", "logp": 3.28, "category": "Angiogenesis"},
          {"pathway": "Positive regulation of ERK1 and ERK2 cascade", "logp": 3.21, "category": "Angiogenesis"},
          {"pathway": "Extracellular matrix disassembly", "logp": 3.13, "category": "Extracellular matrix"},
          {"pathway": "Wound healing", "logp": 3.0, "category": "Extracellular matrix"}
        ]},
        "mark": {"type": "bar", "stroke": "#303030", "strokeWidth": 1.5},
        "encoding": {
          "y": {"field": "pathway", "type": "nominal", "sort": null,
                "scale": {"paddingInner": 0.355, "paddingOuter": 0.35},
                "axis": {"orient": "left", "offset": -661, "tickSize": 13, "tickWidth": 2.5, "domainWidth": 3, "labelPadding": 6, "labelFontSize": 28.5,
                         "title": "Pathways Enriched in RAMP2-AS1 KD vs Scramble", "titleAngle": 0, "titleX": -10, "titleY": -37, "titleAlign": "center", "titleBaseline": "middle", "titleFontSize": 36.4}},
          "x": {"field": "logp", "type": "quantitative",
                "scale": {"domain": [0, 6], "range": [661, 1176], "nice": false},
                "axis": {"values": [0, 2, 4, 6], "labelFlush": false, "tickSize": 14, "tickWidth": 2.5, "domainWidth": 3, "labelPadding": 11, "labelFontSize": 23, "title": "-(Log₁₀ P value)", "titleFontSize": 32.5, "titlePadding": 21}},
          "color": {"field": "category", "type": "nominal",
                    "scale": {"domain": ["Angiogenesis", "Inflammation", "Apoptosis", "Unfolded protein response", "Extracellular matrix"],
                              "range": ["#44F2B4", "#0D0DF0", "#FFFF70", "#FF4242", "#B354D6"]},
                    "legend": null}
        }
      }
    ]
  },
  {
    "width": 741,
    "height": 1174,
    "resolve": {"scale": {"x": "independent", "y": "independent"}},
    "layer": [
      {
        "data": {"values": [
          {"key": "ADM2", "group": "Angiogenesis", "fc": -1.53},
          {"key": "VEGFA", "group": "Angiogenesis", "fc": -0.42},
          {"key": "FGF2", "group": "Angiogenesis", "fc": -0.61},
          {"key": "SERPINE1", "group": "Angiogenesis", "fc": -0.31},
          {"key": "PDGFA", "group": "Angiogenesis", "fc": -0.34},
          {"key": "PRKCA", "group": "Angiogenesis", "fc": -0.4},
          {"key": "CYP1B1", "group": "Angiogenesis", "fc": 0.78},
          {"key": "CXCL8|1", "group": "Angiogenesis", "fc": -1.25},
          {"key": "RHOB", "group": "Angiogenesis", "fc": 0.38},
          {"key": "CEBPB|1", "group": "Angiogenesis", "fc": -0.72},
          {"key": "CCL14", "group": "Inflammation", "fc": 1.63},
          {"key": "TNFAIP3", "group": "Inflammation", "fc": -0.64},
          {"key": "CXCL1", "group": "Inflammation", "fc": -0.75},
          {"key": "IL1A", "group": "Inflammation", "fc": -1.08},
          {"key": "CXCL2", "group": "Inflammation", "fc": -1.16},
          {"key": "TAC1", "group": "Inflammation", "fc": -4.25},
          {"key": "CXCL3", "group": "Inflammation", "fc": -1.22},
          {"key": "IL6", "group": "Inflammation", "fc": -0.64},
          {"key": "CXCL5", "group": "Inflammation", "fc": -1.54},
          {"key": "AXL", "group": "Inflammation", "fc": -0.45},
          {"key": "CCL20", "group": "Inflammation", "fc": -3.43},
          {"key": "CXCL11", "group": "Inflammation", "fc": 1.02},
          {"key": "RELT", "group": "Inflammation", "fc": 0.42},
          {"key": "TNFRSF25", "group": "Inflammation", "fc": 0.35},
          {"key": "IL1RAP", "group": "Inflammation", "fc": -0.51},
          {"key": "MIF", "group": "Inflammation", "fc": 0.52},
          {"key": "CXCL6", "group": "Inflammation", "fc": -1.46},
          {"key": "TNFRSF9", "group": "Inflammation", "fc": -1.29},
          {"key": "CXCL8|2", "group": "Inflammation", "fc": -1.25},
          {"key": "PYCARD", "group": "Inflammation", "fc": 0.47},
          {"key": "VWF", "group": "Inflammation", "fc": 0.5},
          {"key": "ATF3", "group": "Unfolded protein response", "fc": -1.53},
          {"key": "TRIB3", "group": "Unfolded protein response", "fc": -0.71},
          {"key": "CEBPB|2", "group": "Unfolded protein response", "fc": -0.74},
          {"key": "DDIT3", "group": "Unfolded protein response", "fc": -0.81},
          {"key": "ATF4", "group": "Unfolded protein response", "fc": -0.35},
          {"key": "HERPUD1", "group": "Unfolded protein response", "fc": -0.31},
          {"key": "CXCL8|3", "group": "Unfolded protein response", "fc": -1.25}
        ]},
        "layer": [
          {
            "mark": {"type": "bar"},
            "encoding": {
              "y": {"field": "key", "type": "nominal", "sort": null,
                    "scale": {"paddingInner": 0.35, "paddingOuter": 0.175},
                    "axis": {"orient": "left", "offset": -469, "labelExpr": "split(datum.label, '|')[0]", "tickSize": 17, "tickWidth": 4, "domainWidth": 4, "labelPadding": 7, "labelFontSize": 30,
                             "title": "C", "titleAngle": 0, "titleX": -442, "titleY": 1, "titleAlign": "center", "titleBaseline": "middle", "titleFontSize": 28}},
              "x": {"field": "fc", "type": "quantitative",
                    "scale": {"domain": [-6, 2], "range": [469, 741], "nice": false, "zero": false},
                    "axis": {"orient": "bottom", "values": [-6, -4, -2, 0, 2], "labelExpr": "datum.value", "labelFlush": false, "tickSize": 16, "tickWidth": 4, "domainWidth": 4, "labelPadding": 12, "labelFontSize": 27, "title": "Log₂FC", "titleFontSize": 38, "titlePadding": 17}},
              "x2": {"datum": 0},
              "color": {"condition": {"test": "datum.fc > 0", "value": "#FF0000"}, "value": "#0000FF"}
            }
          },
          {
            "data": {"values": [{"zero": 0}]},
            "mark": {"type": "rule", "color": "#000000", "strokeWidth": 4},
            "encoding": {"x": {"field": "zero", "type": "quantitative"}}
          }
        ]
      },
      {
        "data": {"values": [
          {"group": "Angiogenesis", "from": -0.42, "to": 9.51, "at": 4.63, "label": ["Angiogenesis"]},
          {"group": "Inflammation", "from": 9.97, "to": 30.55, "at": 20.8, "label": ["Inflammation"]},
          {"group": "Unfolded protein response", "from": 30.9, "to": 38.0, "at": 34.48, "label": ["Unfolded", "protein", "response"]}
        ]},
        "layer": [
          {
            "mark": {"type": "rule", "color": "#4472C4", "strokeWidth": 3},
            "encoding": {
              "x": {"datum": 0.955, "type": "quantitative", "scale": {"domain": [0, 1], "range": [0, 270], "nice": false}, "axis": null},
              "y": {"field": "from", "type": "quantitative", "scale": {"domain": [0, 38], "reverse": true, "nice": false, "zero": false}, "axis": null},
              "y2": {"field": "to"}
            }
          },
          {
            "mark": {"type": "rule", "color": "#4472C4", "strokeWidth": 3},
            "encoding": {
              "x": {"datum": 0.955, "type": "quantitative"},
              "x2": {"datum": 1.0},
              "y": {"field": "from", "type": "quantitative"}
            }
          },
          {
            "mark": {"type": "rule", "color": "#4472C4", "strokeWidth": 3},
            "encoding": {
              "x": {"datum": 0.955, "type": "quantitative"},
              "x2": {"datum": 1.0},
              "y": {"field": "to", "type": "quantitative"}
            }
          },
          {
            "mark": {"type": "text", "align": "right", "baseline": "middle", "fontSize": 36.5, "fontWeight": "bold", "lineHeight": 45, "color": "#000"},
            "encoding": {
              "x": {"datum": 0.893, "type": "quantitative"},
              "y": {"field": "at", "type": "quantitative"},
              "text": {"field": "label"}
            }
          }
        ]
      }
    ]
  }
]
}
